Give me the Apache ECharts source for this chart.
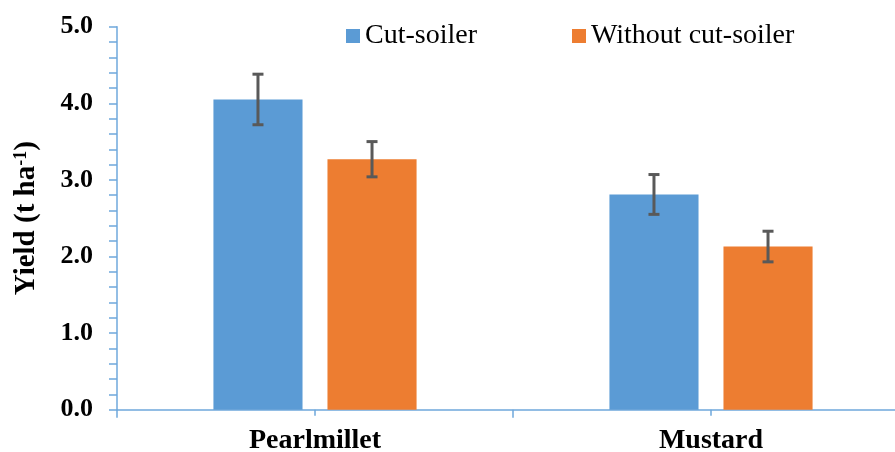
<!DOCTYPE html>
<html>
<head>
<meta charset="utf-8">
<script src="https://cdn.jsdelivr.net/npm/echarts@6/dist/echarts.min.js"></script>
<style>
  html, body { margin: 0; padding: 0; background: #fff; }
  #chart { width: 895px; height: 452px; }
</style>
</head>
<body>
<div id="chart"></div>
<script>
// Crop yields with and without the cut-soiler, mean ± error
const crops = ['Pearlmillet', 'Mustard'];
const seriesNames = ['Cut-soiler', 'Without cut-soiler'];
const cutSoiler = [4.05, 2.81];
const cutSoilerErr = [0.33, 0.26];
const withoutCutSoiler = [3.27, 2.13];
const withoutCutSoilerErr = [0.23, 0.20];
const yTicks = [0, 1, 2, 3, 4, 5];

const SERIF = "'Liberation Serif', 'Times New Roman', serif";
const AXIS_COLOR = '#6FA8DC';
const BAR_W = 0.225;            // bar width as a fraction of the category band
const BAR_GAP = 0.28;           // gap between bars as a fraction of bar width

const chart = echarts.init(document.getElementById('chart'));

// Error bar drawn at the bar's centre inside its category band
function errorBars(values, errors, side) {
  return function (params, api) {
    const i = api.value(0);
    const band = api.size([1, 0])[0];
    const offset = side * band * (BAR_W + BAR_W * BAR_GAP) / 2;
    const top = api.coord([i, values[i] + errors[i]]);
    const bot = api.coord([i, values[i] - errors[i]]);
    const x = top[0] + offset;
    const cap = 5.5;
    const style = { stroke: '#595959', lineWidth: 3 };
    return {
      type: 'group',
      children: [
        { type: 'line', shape: { x1: x, y1: top[1], x2: x, y2: bot[1] }, style },
        { type: 'line', shape: { x1: x - cap, y1: top[1], x2: x + cap, y2: top[1] }, style },
        { type: 'line', shape: { x1: x - cap, y1: bot[1], x2: x + cap, y2: bot[1] }, style }
      ]
    };
  };
}

chart.setOption({
  animation: false,
  // the plot runs past the right edge of the canvas
  grid: {
    left: 117, width: 792, top: 26.7, height: 383,
    containLabel: false,
    outerBoundsMode: 'none'
  },
  legend: {
    data: seriesNames,
    left: 341,
    top: 17,
    icon: 'rect',
    itemWidth: 14,
    itemHeight: 14,
    itemGap: 95,
    textStyle: { fontFamily: SERIF, fontSize: 28, color: '#000' }
  },
  xAxis: [
    {
      type: 'category',
      data: crops,
      axisLine: { lineStyle: { color: AXIS_COLOR, width: 1.5 } },
      axisTick: { show: true, length: 8, interval: 0, lineStyle: { color: AXIS_COLOR, width: 1.5 } },
      axisLabel: {
        margin: 17,
        fontFamily: SERIF, fontSize: 28, fontWeight: 'bold', color: '#000'
      },
      splitLine: { show: false }
    },
    {
      // half-category ticks along the same baseline
      type: 'category',
      position: 'bottom',
      data: ['', '', '', ''],
      axisLine: { show: false },
      axisTick: { show: true, length: 6, interval: 0, lineStyle: { color: AXIS_COLOR, width: 1.5 } },
      axisLabel: { show: false },
      splitLine: { show: false }
    }
  ],
  yAxis: {
    type: 'value',
    min: yTicks[0],
    max: yTicks[yTicks.length - 1],
    interval: 1,
    name: '{a|Yield (t ha}{s|-1}{a|)}',
    nameLocation: 'middle',
    nameRotate: 90,
    nameGap: 75,
    nameTextStyle: {
      rich: {
        a: { fontFamily: SERIF, fontSize: 29, fontWeight: 'bold', color: '#000', lineHeight: 30 },
        s: { fontFamily: SERIF, fontSize: 18, fontWeight: 'bold', color: '#000', verticalAlign: 'top', lineHeight: 14 }
      }
    },
    axisLine: { show: true, lineStyle: { color: AXIS_COLOR, width: 1.5 } },
    axisTick: { show: true, length: 8, lineStyle: { color: AXIS_COLOR, width: 1.5 } },
    minorTick: { show: true, splitNumber: 5, length: 8, lineStyle: { color: AXIS_COLOR, width: 1.5 } },
    axisLabel: {
      margin: 24,
      formatter: v => v.toFixed(1),
      fontFamily: SERIF, fontSize: 26, fontWeight: 'bold', color: '#000'
    },
    splitLine: { show: false },
    minorSplitLine: { show: false }
  },
  series: [
    {
      name: seriesNames[0],
      type: 'bar',
      data: cutSoiler,
      barWidth: (BAR_W * 100) + '%',
      barGap: (BAR_GAP * 100) + '%',
      itemStyle: { color: '#5B9BD5' }
    },
    {
      name: seriesNames[1],
      type: 'bar',
      data: withoutCutSoiler,
      barWidth: (BAR_W * 100) + '%',
      barGap: (BAR_GAP * 100) + '%',
      itemStyle: { color: '#ED7D31' }
    },
    {
      type: 'custom',
      renderItem: errorBars(cutSoiler, cutSoilerErr, -1),
      data: crops.map((c, i) => [i, cutSoiler[i]]),
      z: 5
    },
    {
      type: 'custom',
      renderItem: errorBars(withoutCutSoiler, withoutCutSoilerErr, 1),
      data: crops.map((c, i) => [i, withoutCutSoiler[i]]),
      z: 5
    }
  ]
});
</script>
</body>
</html>
